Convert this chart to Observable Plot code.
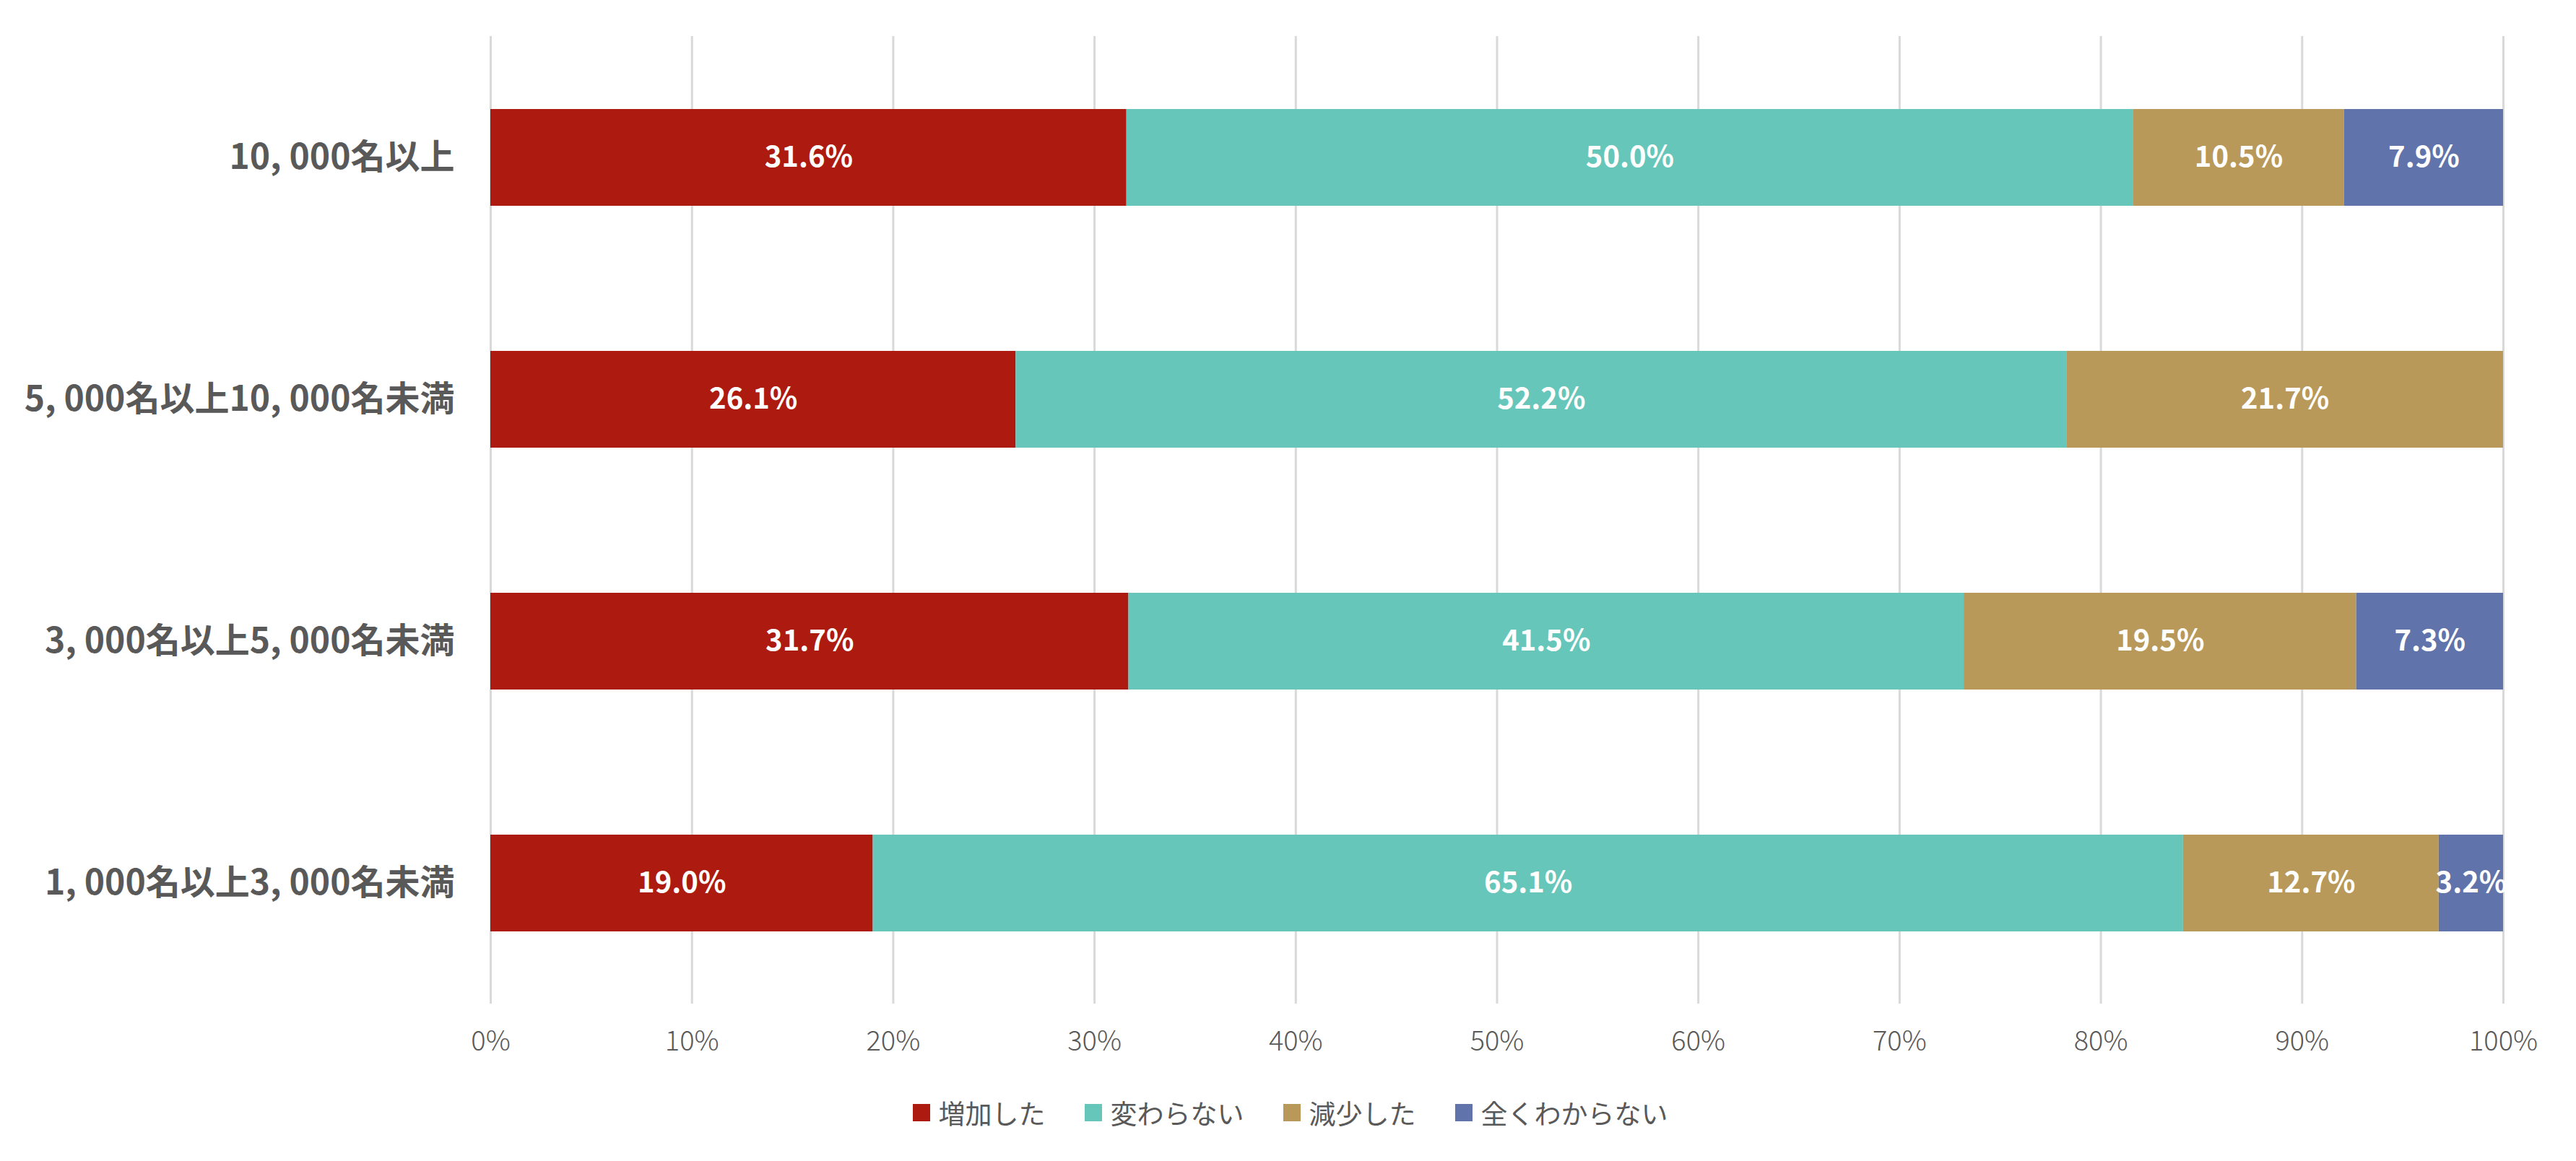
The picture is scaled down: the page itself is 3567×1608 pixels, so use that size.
<!DOCTYPE html>
<html>
<head>
<meta charset="utf-8">
<script src="https://cdn.jsdelivr.net/npm/d3@7"></script>
<script src="https://cdn.jsdelivr.net/npm/@observablehq/plot@0.6"></script>
<style>
  html, body { margin: 0; padding: 0; background: #fff; }
  body { width: 3567px; height: 1608px; font-family: "Noto Sans CJK JP", "Noto Sans", sans-serif; }
  #legend { display: flex; justify-content: center; align-items: center; gap: 54px; height: 60px; margin-top: 21px; padding-left: 6px; }
  .item { display: flex; align-items: center; gap: 12px; font-size: 37px; color: #595959; font-family: "Noto Sans CJK JP", sans-serif; }
  .sw { width: 24px; height: 24px; display: inline-block; }
</style>
</head>
<body>
<div id="chart"></div>
<div id="legend"></div>
<script>
const categories = ["10, 000名以上", "5, 000名以上10, 000名未満", "3, 000名以上5, 000名未満", "1, 000名以上3, 000名未満"];
const series = ["増加した", "変わらない", "減少した", "全くわからない"];
const colors = ["#AD1A0F", "#66C6BA", "#B8995A", "#6073AA"];
const increased = [31.6, 26.1, 31.7, 19.0];
const unchanged = [50.0, 52.2, 41.5, 65.1];
const decreased = [10.5, 21.7, 19.5, 12.7];
const unknown = [7.9, 0, 7.3, 3.2];
const xTicks = [0, 0.1, 0.2, 0.3, 0.4, 0.5, 0.6, 0.7, 0.8, 0.9, 1.0];

const seriesValues = [increased, unchanged, decreased, unknown];
const rows = [];
categories.forEach((c, ci) => {
  series.forEach((s, si) => {
    const v = seriesValues[si][ci];
    if (v > 0) rows.push({category: c, series: s, value: v / 100});
  });
});

const fontFamily = '"Noto Sans CJK JP", "Noto Sans", sans-serif';

const chart = Plot.plot({
  width: 3567,
  height: 1490,
  marginLeft: 679,
  marginRight: 101,
  marginTop: 50,
  marginBottom: 100,
  style: {fontFamily: fontFamily, background: "#fff", overflow: "visible"},
  x: {domain: [0, 1], axis: null},
  y: {domain: categories, paddingInner: 0.6, paddingOuter: 0.3, axis: null},
  color: {domain: series, range: colors},
  marks: [
    Plot.gridX(xTicks, {stroke: "#D9D9D9", strokeWidth: 3, strokeOpacity: 1}),
    Plot.barX(rows, Plot.stackX({x: "value", y: "category", fill: "series", order: series})),
    Plot.text(rows, Plot.stackX({x: "value", y: "category", z: "series", order: series,
      text: d => (d.value * 100).toFixed(1) + "%",
      fill: "white", fontSize: 40, fontWeight: "bold"})),
    Plot.axisX(xTicks, {tickSize: 0, tickPadding: 38, tickFormat: d => Math.round(d * 100) + "%",
      fontSize: 38, fill: "#595959", fontWeight: 300, label: null}),
    Plot.axisY({tickSize: 0, tickPadding: 50, fontSize: 48, fontWeight: "bold", fill: "#595959", label: null})
  ]
});
document.getElementById("chart").appendChild(chart);

const legend = document.getElementById("legend");
series.forEach((s, i) => {
  const item = document.createElement("div");
  item.className = "item";
  const sw = document.createElement("span");
  sw.className = "sw";
  sw.style.background = colors[i];
  const label = document.createElement("span");
  label.textContent = s;
  item.appendChild(sw);
  item.appendChild(label);
  legend.appendChild(item);
});
</script>
</body>
</html>
